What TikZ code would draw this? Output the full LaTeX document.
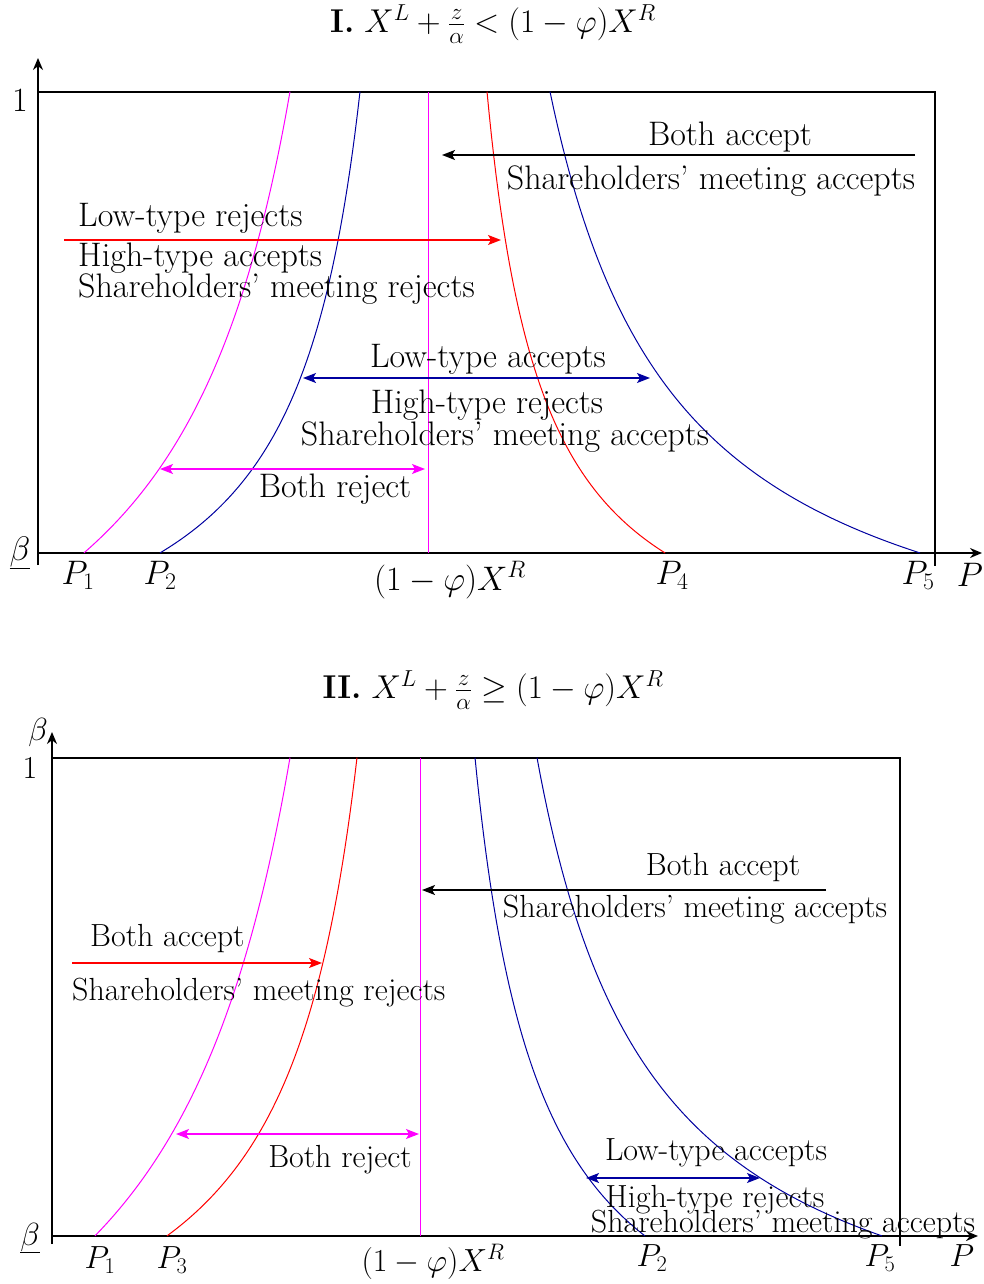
\RequirePackage{fix-cm}
\documentclass[tikz,border=0pt]{standalone}
\usetikzlibrary{arrows.meta}
\definecolor{cblue}{RGB}{0,0,160}
\definecolor{cmag}{RGB}{255,0,255}
\definecolor{cred}{RGB}{255,0,0}
\begin{document}
\begin{tikzpicture}[x=1pt,y=-1pt,
  txt/.style={font=\fontsize{34}{40}\selectfont, inner sep=0pt},
  txtb/.style={font=\fontsize{32}{38}\selectfont, inner sep=0pt},
  ttl/.style={font=\fontsize{33}{39}\selectfont, inner sep=0pt},
  axis/.style={line width=2pt, -{Stealth[length=12pt,width=10pt]}},
  frame/.style={line width=1.3pt},
  curve/.style={line width=1pt},
  rarr/.style={line width=1.3pt, -{Stealth[length=13pt,width=10pt,inset=3pt]}},
  darr/.style={line width=1.3pt, {Stealth[length=13pt,width=10pt,inset=3pt]}-{Stealth[length=13pt,width=10pt,inset=3pt]}}
]
\useasboundingbox (0,0) rectangle (984,1284);

% ================= Panel I =================
\node[ttl] (t1) at (493,24) {\textbf{I.} $X^L+\frac{z}{\alpha}<(1-\varphi)X^R$};
\coordinate (o1) at (38,553);
\coordinate (ytop1) at (38,58);
\coordinate (xend1) at (982,553);
\draw[frame] (38,92) -- (935,92) -- (935,566);
\draw[axis] (38,565) -- (ytop1);
\draw[axis] (o1) -- (xend1);
\node[txt] (one1) at (20,100) {1};
\node[txt] (b1) at (20,553) {$\underline{\beta}$};
\node[txt] (p11) at (78,575) {$P_1$};
\node[txt] (p21) at (160,575) {$P_2$};
\node[txt] (phi1) at (450,580) {$(1-\varphi)X^R$};
\node[txt] (p41) at (672,575) {$P_4$};
\node[txt] (p51) at (918,575) {$P_5$};
\node[txt] (pp1) at (970,575) {$P$};

% curves (hyperbolic shapes)
\draw[curve,cmag] plot[domain=84:290,samples=80] (\x,{553-(977.5/((420-\x)*0.01)-290.9)});
\draw[curve,cblue] plot[domain=160:360,samples=80] (\x,{553-(435.65/((430-\x)*0.01)-161.35)});
\draw[curve,cmag] (428,92) -- (428,553);
\draw[curve,cred] plot[domain=487:665,samples=80] (\x,{553-(346.9/((\x-430)*0.01)-147.6)});
\draw[curve,cblue] plot[domain=550:920,samples=100] (\x,{553-(809.86/((\x-420)*0.01)-162)});

% arrows and labels
\coordinate (a1s) at (915,155); \coordinate (a1e) at (442,155);
\draw[rarr,black] (a1s) -- (a1e);
\node[txt] (l1a) at (730,137) {Both accept};
\node[txt] (l1b) at (711,181) {Shareholders' meeting accepts};

\coordinate (a2s) at (64,240); \coordinate (a2e) at (501,240);
\draw[rarr,cred] (a2s) -- (a2e);
\node[txt,anchor=west] (l2a) at (78,218) {Low-type rejects};
\node[txt,anchor=west] (l2b) at (78,258) {High-type accepts};
\node[txt,anchor=west] (l2c) at (78,289) {Shareholders' meeting rejects};

\coordinate (a3s) at (303,378); \coordinate (a3e) at (650,378);
\draw[darr,cblue] (a3s) -- (a3e);
\node[txt] (l3a) at (488,359) {Low-type accepts};
\node[txt] (l3b) at (487,405) {High-type rejects};
\node[txt] (l3c) at (505,437) {Shareholders' meeting accepts};

\coordinate (a4s) at (160,469); \coordinate (a4e) at (425,469);
\draw[darr,cmag] (a4s) -- (a4e);
\node[txt] (l4a) at (335,489) {Both reject};

% ================= Panel II =================
\node[ttl] (t2) at (493,690) {\textbf{II.} $X^L+\frac{z}{\alpha}\geq(1-\varphi)X^R$};
\coordinate (o2) at (52,1236);
\coordinate (ytop2) at (52,732);
\coordinate (xend2) at (978,1236);
\draw[frame] (52,758) -- (900,758) -- (900,1246);
\draw[axis] (52,1244) -- (ytop2);
\draw[axis] (o2) -- (xend2);
\node[txtb] (bt2) at (38,732) {$\beta$};
\node[txtb] (one2) at (30,768) {1};
\node[txtb] (b2) at (30,1238) {$\underline{\beta}$};
\node[txtb] (p12) at (100,1260) {$P_1$};
\node[txtb] (p32) at (172,1260) {$P_3$};
\node[txtb] (phi2) at (433,1262) {$(1-\varphi)X^R$};
\node[txtb] (p22) at (652,1258) {$P_2$};
\node[txtb] (p52) at (880,1258) {$P_5$};
\node[txtb] (pp2) at (962,1256) {$P$};

\draw[curve,cmag] plot[domain=95:290,samples=80] (\x,{1236-(1149.65/((430-\x)*0.01)-343.2)});
\draw[curve,cred] plot[domain=167:357,samples=80] (\x,{1236-(525.9/((435-\x)*0.01)-196.2)});
\draw[curve,cmag] (420,758) -- (420,1236);
\draw[curve,cblue] plot[domain=475:645,samples=80] (\x,{1236-(429.5/((\x-410)*0.01)-182.8)});
\draw[curve,cblue] plot[domain=537:882,samples=100] (\x,{1236-(748.92/((\x-420)*0.01)-162.1)});

\coordinate (b1s) at (826,890); \coordinate (b1e) at (422,890);
\draw[rarr,black] (b1s) -- (b1e);
\node[txtb] (m1a) at (723,868) {Both accept};
\node[txtb] (m1b) at (695,910) {Shareholders' meeting accepts};

\coordinate (b2s) at (72,963); \coordinate (b2e) at (322,963);
\draw[rarr,cred] (b2s) -- (b2e);
\node[txtb,anchor=west] (m2a) at (90,939) {Both accept};
\node[txtb,anchor=west] (m2b) at (72,993) {Shareholders' meeting rejects};

\coordinate (b3s) at (176,1134); \coordinate (b3e) at (419,1134);
\draw[darr,cmag] (b3s) -- (b3e);
\node[txtb] (m3a) at (340,1160) {Both reject};

\coordinate (b4s) at (586,1178); \coordinate (b4e) at (760,1178);
\draw[darr,cblue] (b4s) -- (b4e);
\node[txtb] (m4a) at (716,1153) {Low-type accepts};
\node[txtb] (m4b) at (715,1200) {High-type rejects};
\node[txtb] (m4c) at (783,1225) {Shareholders' meeting accepts};
\end{tikzpicture}
\end{document}
